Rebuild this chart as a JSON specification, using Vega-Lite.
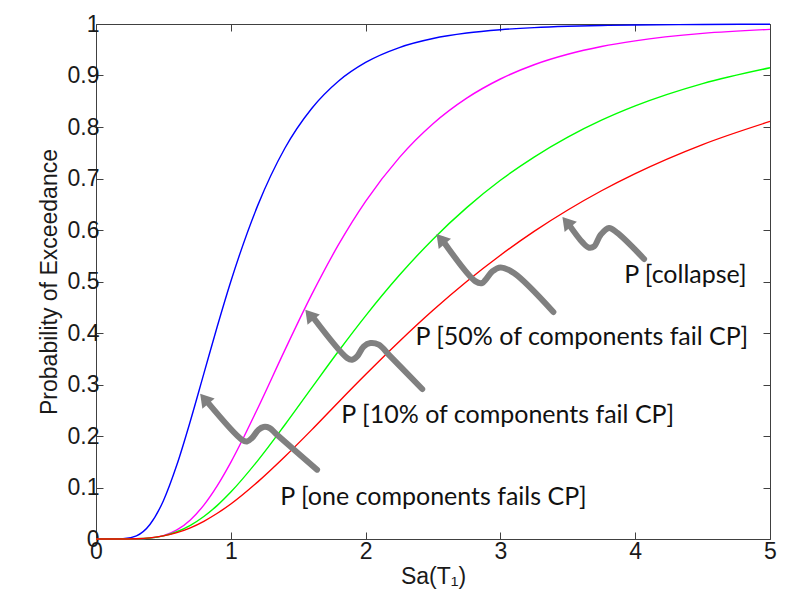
{
  "$schema": "https://vega.github.io/schema/vega-lite/v6.json",
  "width": 674,
  "height": 515,
  "autosize": {"type": "none"},
  "padding": {"left": 96, "top": 24, "right": 22, "bottom": 63},
  "background": "white",
  "config": {
    "view": {"stroke": "#404040", "strokeWidth": 1},
    "axis": {
      "grid": false,
      "domain": false,
      "labelFlush": false,
      "tickColor": "#404040",
      "tickSize": -7,
      "tickWidth": 1,
      "labelFont": "Liberation Sans",
      "labelFontSize": 23,
      "labelColor": "#1a1a1a",
      "titleFont": "Liberation Sans",
      "titleFontSize": 23,
      "titleFontWeight": "normal",
      "titleColor": "#1a1a1a"
    }
  },
  "datasets": {
    "curves": [
      {"series": "one", "x": 0, "y": 0}, {"series": "one", "x": 0.1, "y": 0}, {"series": "one", "x": 0.2, "y": 0.0004}, {"series": "one", "x": 0.3, "y": 0.0061}, {"series": "one", "x": 0.4, "y": 0.0281}, {"series": "one", "x": 0.5, "y": 0.0744}, {"series": "one", "x": 0.6, "y": 0.144}, {"series": "one", "x": 0.7, "y": 0.2291}, {"series": "one", "x": 0.8, "y": 0.3211}, {"series": "one", "x": 0.9, "y": 0.4131}, {"series": "one", "x": 1.0, "y": 0.5}, {"series": "one", "x": 1.2, "y": 0.6478}, {"series": "one", "x": 1.4, "y": 0.7583}, {"series": "one", "x": 1.6, "y": 0.836}, {"series": "one", "x": 1.8, "y": 0.8894}, {"series": "one", "x": 2.0, "y": 0.9254}, {"series": "one", "x": 2.25, "y": 0.9543}, {"series": "one", "x": 2.5, "y": 0.9718}, {"series": "one", "x": 2.75, "y": 0.9824}, {"series": "one", "x": 3.0, "y": 0.9889}, {"series": "one", "x": 3.25, "y": 0.993}, {"series": "one", "x": 3.5, "y": 0.9955}, {"series": "one", "x": 3.75, "y": 0.997}, {"series": "one", "x": 4.0, "y": 0.9981}, {"series": "one", "x": 4.5, "y": 0.9991}, {"series": "one", "x": 5.0, "y": 0.9996},
      {"series": "ten", "x": 0, "y": 0}, {"series": "ten", "x": 0.1, "y": 0}, {"series": "ten", "x": 0.2, "y": 0}, {"series": "ten", "x": 0.3, "y": 0.0002}, {"series": "ten", "x": 0.4, "y": 0.0016}, {"series": "ten", "x": 0.5, "y": 0.0064}, {"series": "ten", "x": 0.6, "y": 0.0176}, {"series": "ten", "x": 0.7, "y": 0.0371}, {"series": "ten", "x": 0.8, "y": 0.0658}, {"series": "ten", "x": 0.9, "y": 0.1036}, {"series": "ten", "x": 1.0, "y": 0.1488}, {"series": "ten", "x": 1.2, "y": 0.2538}, {"series": "ten", "x": 1.4, "y": 0.3662}, {"series": "ten", "x": 1.6, "y": 0.4744}, {"series": "ten", "x": 1.8, "y": 0.5719}, {"series": "ten", "x": 2.0, "y": 0.6556}, {"series": "ten", "x": 2.25, "y": 0.7406}, {"series": "ten", "x": 2.5, "y": 0.8063}, {"series": "ten", "x": 2.75, "y": 0.856}, {"series": "ten", "x": 3.0, "y": 0.8932}, {"series": "ten", "x": 3.25, "y": 0.9209}, {"series": "ten", "x": 3.5, "y": 0.9412}, {"series": "ten", "x": 3.75, "y": 0.9563}, {"series": "ten", "x": 4.0, "y": 0.9673}, {"series": "ten", "x": 4.5, "y": 0.9817}, {"series": "ten", "x": 5.0, "y": 0.9896},
      {"series": "fifty", "x": 0, "y": 0}, {"series": "fifty", "x": 0.1, "y": 0}, {"series": "fifty", "x": 0.2, "y": 0}, {"series": "fifty", "x": 0.3, "y": 0.0004}, {"series": "fifty", "x": 0.4, "y": 0.002}, {"series": "fifty", "x": 0.5, "y": 0.0062}, {"series": "fifty", "x": 0.6, "y": 0.0141}, {"series": "fifty", "x": 0.7, "y": 0.0266}, {"series": "fifty", "x": 0.8, "y": 0.0437}, {"series": "fifty", "x": 0.9, "y": 0.0653}, {"series": "fifty", "x": 1.0, "y": 0.0912}, {"series": "fifty", "x": 1.2, "y": 0.1523}, {"series": "fifty", "x": 1.4, "y": 0.2214}, {"series": "fifty", "x": 1.6, "y": 0.2935}, {"series": "fifty", "x": 1.8, "y": 0.365}, {"series": "fifty", "x": 2.0, "y": 0.4333}, {"series": "fifty", "x": 2.25, "y": 0.512}, {"series": "fifty", "x": 2.5, "y": 0.5822}, {"series": "fifty", "x": 2.75, "y": 0.6434}, {"series": "fifty", "x": 3.0, "y": 0.6965}, {"series": "fifty", "x": 3.25, "y": 0.7416}, {"series": "fifty", "x": 3.5, "y": 0.7803}, {"series": "fifty", "x": 3.75, "y": 0.8132}, {"series": "fifty", "x": 4.0, "y": 0.841}, {"series": "fifty", "x": 4.5, "y": 0.8843}, {"series": "fifty", "x": 5.0, "y": 0.9151},
      {"series": "collapse", "x": 0, "y": 0}, {"series": "collapse", "x": 0.1, "y": 0}, {"series": "collapse", "x": 0.2, "y": 0.0001}, {"series": "collapse", "x": 0.3, "y": 0.0005}, {"series": "collapse", "x": 0.4, "y": 0.0022}, {"series": "collapse", "x": 0.5, "y": 0.006}, {"series": "collapse", "x": 0.6, "y": 0.0124}, {"series": "collapse", "x": 0.7, "y": 0.0218}, {"series": "collapse", "x": 0.8, "y": 0.0344}, {"series": "collapse", "x": 0.9, "y": 0.05}, {"series": "collapse", "x": 1.0, "y": 0.0679}, {"series": "collapse", "x": 1.2, "y": 0.1109}, {"series": "collapse", "x": 1.4, "y": 0.1597}, {"series": "collapse", "x": 1.6, "y": 0.2119}, {"series": "collapse", "x": 1.8, "y": 0.2662}, {"series": "collapse", "x": 2.0, "y": 0.3194}, {"series": "collapse", "x": 2.25, "y": 0.3836}, {"series": "collapse", "x": 2.5, "y": 0.4441}, {"series": "collapse", "x": 2.75, "y": 0.5}, {"series": "collapse", "x": 3.0, "y": 0.551}, {"series": "collapse", "x": 3.25, "y": 0.5973}, {"series": "collapse", "x": 3.5, "y": 0.6388}, {"series": "collapse", "x": 3.75, "y": 0.6762}, {"series": "collapse", "x": 4.0, "y": 0.7095}, {"series": "collapse", "x": 4.5, "y": 0.7659}, {"series": "collapse", "x": 5.0, "y": 0.8108}
    ],
    "arrows": [
      {"arrow": "a1", "i": 0, "x": 1.64, "y": 0.1346}, {"arrow": "a1", "i": 1, "x": 1.3425, "y": 0.2025}, {"arrow": "a1", "i": 2, "x": 1.2875, "y": 0.2155}, {"arrow": "a1", "i": 3, "x": 1.243, "y": 0.2175}, {"arrow": "a1", "i": 4, "x": 1.206, "y": 0.2122}, {"arrow": "a1", "i": 5, "x": 1.157, "y": 0.1961}, {"arrow": "a1", "i": 6, "x": 1.12, "y": 0.1895}, {"arrow": "a1", "i": 7, "x": 1.0825, "y": 0.1928}, {"arrow": "a1", "i": 8, "x": 0.8224, "y": 0.2672},
      {"arrow": "a2", "i": 0, "x": 2.42, "y": 0.2913}, {"arrow": "a2", "i": 1, "x": 2.184, "y": 0.3546}, {"arrow": "a2", "i": 2, "x": 2.097, "y": 0.3773}, {"arrow": "a2", "i": 3, "x": 2.036, "y": 0.3806}, {"arrow": "a2", "i": 4, "x": 1.986, "y": 0.374}, {"arrow": "a2", "i": 5, "x": 1.937, "y": 0.3546}, {"arrow": "a2", "i": 6, "x": 1.9, "y": 0.3482}, {"arrow": "a2", "i": 7, "x": 1.863, "y": 0.3515}, {"arrow": "a2", "i": 8, "x": 1.614, "y": 0.4291},
      {"arrow": "a3", "i": 0, "x": 3.393, "y": 0.4408}, {"arrow": "a3", "i": 1, "x": 3.1, "y": 0.5165}, {"arrow": "a3", "i": 2, "x": 3.001, "y": 0.5274}, {"arrow": "a3", "i": 3, "x": 2.94, "y": 0.5196}, {"arrow": "a3", "i": 4, "x": 2.89, "y": 0.5035}, {"arrow": "a3", "i": 5, "x": 2.865, "y": 0.4971}, {"arrow": "a3", "i": 6, "x": 2.816, "y": 0.5002}, {"arrow": "a3", "i": 7, "x": 2.568, "y": 0.5812},
      {"arrow": "a4", "i": 0, "x": 4.066, "y": 0.5437}, {"arrow": "a4", "i": 1, "x": 3.868, "y": 0.5942}, {"arrow": "a4", "i": 2, "x": 3.806, "y": 0.6039}, {"arrow": "a4", "i": 3, "x": 3.744, "y": 0.5909}, {"arrow": "a4", "i": 4, "x": 3.695, "y": 0.5682}, {"arrow": "a4", "i": 5, "x": 3.658, "y": 0.5656}, {"arrow": "a4", "i": 6, "x": 3.611, "y": 0.5753}, {"arrow": "a4", "i": 7, "x": 3.497, "y": 0.6148}
    ],
    "heads": [
      {"arrow": "a1", "x": 0.7727, "y": 0.2821},
      {"arrow": "a2", "x": 1.553, "y": 0.4452},
      {"arrow": "a3", "x": 2.526, "y": 0.5922},
      {"arrow": "a4", "x": 3.46, "y": 0.6252}
    ],
    "labels": [
      {"text": "P [one components fails CP]", "x": 1.367, "y": 0.0666},
      {"text": "P [10% of components fail CP]", "x": 1.82, "y": 0.2258},
      {"text": "P [50% of components fail CP]", "x": 2.37, "y": 0.3773},
      {"text": "P [collapse]", "x": 3.918, "y": 0.4971}
    ]
  },
  "layer": [
    {
      "encoding": {
        "x": {"field": "x", "type": "quantitative", "scale": {"domain": [0, 5], "nice": false, "zero": false},
              "axis": {"orient": "bottom", "values": [0, 1, 2, 3, 4, 5], "format": "~g", "labelPadding": 8, "title": "Sa(T₁)", "titlePadding": 2}},
        "y": {"field": "y", "type": "quantitative", "scale": {"domain": [0, 1], "nice": false, "zero": false},
              "axis": {"orient": "left", "values": [0, 0.1, 0.2, 0.3, 0.4, 0.5, 0.6, 0.7, 0.8, 0.9, 1], "format": "~g", "labelPadding": 4, "title": "Probability of Exceedance", "titlePadding": 6}}
      },
      "layer": [
        {
          "data": {"name": "curves"},
          "mark": {"type": "line", "interpolate": "monotone", "strokeWidth": 1.4},
          "encoding": {
            "color": {"field": "series", "type": "nominal", "legend": null,
                      "scale": {"domain": ["one", "ten", "fifty", "collapse"], "range": ["#0000ff", "#ff00ff", "#00ff00", "#ff0000"]}}
          }
        },
        {
          "data": {"name": "arrows"},
          "mark": {"type": "line", "interpolate": "catmull-rom", "strokeWidth": 6, "color": "#808080", "strokeCap": "round", "strokeJoin": "round"},
          "encoding": {
            "detail": {"field": "arrow", "type": "nominal"},
            "order": {"field": "i", "type": "quantitative"}
          }
        },
        {
          "data": {"name": "heads"},
          "mark": {"type": "point", "shape": "M0,0L0.8,1.3L-0.8,1.3Z", "size": 400, "filled": true, "color": "#808080", "opacity": 1, "strokeWidth": 0, "angle": -40}
        },
        {
          "data": {"name": "labels"},
          "mark": {"type": "text", "align": "left", "baseline": "alphabetic", "font": "Lato", "fontSize": 25, "color": "#111111"},
          "encoding": {"text": {"field": "text", "type": "nominal"}}
        }
      ]
    },
    {
      "data": {"name": "heads"},
      "mark": {"type": "point", "opacity": 0},
      "encoding": {
        "x": {"field": "x", "type": "quantitative", "axis": {"orient": "top", "values": [0, 1, 2, 3, 4, 5], "labels": false, "title": null}},
        "y": {"field": "y", "type": "quantitative", "axis": {"orient": "right", "values": [0, 0.1, 0.2, 0.3, 0.4, 0.5, 0.6, 0.7, 0.8, 0.9, 1], "labels": false, "title": null}}
      }
    }
  ],
  "resolve": {"axis": {"x": "independent", "y": "independent"}}
}
